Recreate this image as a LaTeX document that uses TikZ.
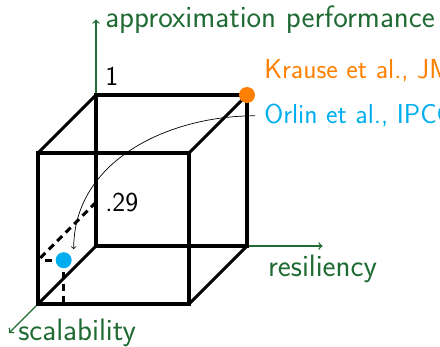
\documentclass[tikz,border=0pt]{standalone}
\usepackage{tikz}
\usetikzlibrary{calc}
\definecolor{axisgreen}{RGB}{31,107,51}
\definecolor{krauseorange}{RGB}{255,128,0}
\definecolor{orlinblue}{RGB}{0,174,239}

\begin{document}
\begin{tikzpicture}[
    x={(3.775cm,0cm)}, y={(0cm,3.775cm)}, z={(-1.45cm,-1.45cm)},
    every node/.style={inner sep=6.4pt, font=\fontsize{22}{26}\selectfont\sffamily},
    axislabel/.style={text=axisgreen},
    reflabel/.style={font=\fontsize{19.5}{23}\selectfont\sffamily},
    numlabel/.style={font=\fontsize{19.5}{23}\selectfont\sffamily},
    edge/.style={line width=2.2pt},
    hidden/.style={line width=2.2pt, dash pattern=on 5pt off 3.5pt},
    axis/.style={->, axisgreen, line width=1pt},
    dot/.style={circle, inner sep=0pt, minimum size=0.4cm},
    pointer/.style={->, line width=0.5pt}
]
\useasboundingbox (-2.4cm,-2.5cm) rectangle (8.6cm,6.15cm);

% corners of the cube
\coordinate (b00) at (0,0,0);
\coordinate (b10) at (1,0,0);
\coordinate (b11) at (1,1,0);
\coordinate (b01) at (0,1,0);
\coordinate (f00) at (0,0,1);
\coordinate (f10) at (1,0,1);
\coordinate (f11) at (1,1,1);
\coordinate (f01) at (0,1,1);

% axes
\coordinate (ytip) at (0,1.5,0);
\coordinate (xtip) at (1.5,0,0);
\coordinate (ztip) at (0,0,1.5);
\draw[axis] (b00) -- (ytip);
\draw[axis] (b00) -- (xtip);
\draw[axis] (b00) -- (ztip);
\node[axislabel, right] (perf) at (ytip) {approximation performance};
\node[axislabel, below] (resil) at (xtip) {resiliency};
\node[axislabel, right] (scal) at (ztip) {scalability};

% cube
\draw[edge] (b00) -- (b10) -- (b11) -- (b01) -- cycle;
\draw[edge] (f00) -- (f10) -- (f11) -- (f01) -- cycle;
\draw[edge] (b00) -- (f00);
\draw[edge] (b10) -- (f10);
\draw[edge] (b11) -- (f11);
\draw[edge] (b01) -- (f01);

% value labels
\node[numlabel, above right] (one) at (b01) {1};
\coordinate (b29) at (0,.29,0);
\coordinate (f29) at (0,.29,1);
\coordinate (fx17) at (.17,0,1);
\node[numlabel, right] (val29) at (b29) {.29};

% projection of the Orlin point
\node[dot] (orlinpt) at (.17,.29,1) {};
\draw[hidden] (b29) -- (f29);
\draw[hidden] (orlinpt.center) -- (f29);
\draw[hidden] (orlinpt.center) -- (fx17);

% points
\node[dot, fill=orlinblue] (orlindot) at (.17,.29,1) {};
\node[dot, fill=krauseorange] (krausedot) at (b11) {};

% references
\node[reflabel, right, text=krauseorange] (krause) at ($(b11)+(0.2cm,0.6cm)$) {Krause et al., JMLR};
\node[reflabel, right, text=orlinblue] (orlin) at ($(b11)+(0.2cm,-0.52cm)$) {Orlin et al., IPCO};
\coordinate (orlintip) at ($(orlindot)+(0.25cm,0.275cm)$);
\draw[pointer] (orlin.west) to[out=180, in=90] (orlintip);

\end{tikzpicture}
\end{document}
